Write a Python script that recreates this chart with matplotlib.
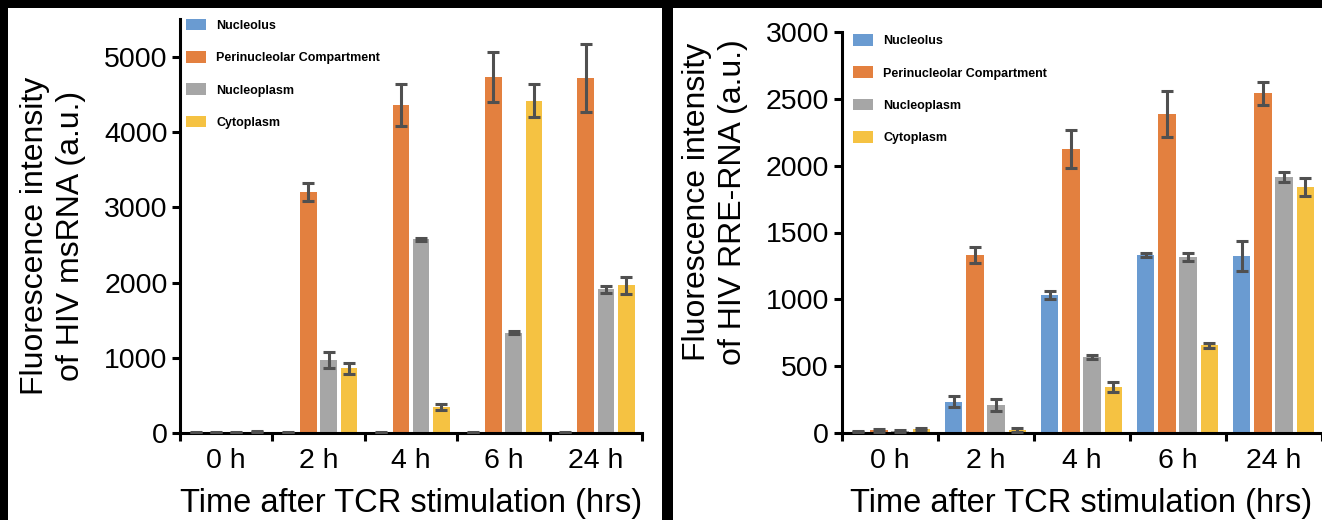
import numpy as np
import matplotlib
matplotlib.use('Agg')
import matplotlib.pyplot as plt
from matplotlib.patches import Patch, Rectangle

plt.rcParams['font.family'] = ['Liberation Sans', 'DejaVu Sans']

# ---- data ----
time_labels = ['0 h', '2 h', '4 h', '6 h', '24 h']
compartments = ['Nucleolus', 'Perinucleolar Compartment', 'Nucleoplasm', 'Cytoplasm']
colors = ['#6A9BD1', '#E3803F', '#A6A6A6', '#F5C242']

# left panel: HIV msRNA
ms_nucleolus = [8, 5, 5, 5, 5]
ms_nucleolus_err = [3, 2, 2, 2, 2]
ms_peri = [10, 3200, 4360, 4730, 4720]
ms_peri_err = [4, 120, 280, 330, 450]
ms_nucleoplasm = [10, 970, 2575, 1335, 1910]
ms_nucleoplasm_err = [4, 110, 20, 25, 50]
ms_cyto = [15, 860, 340, 4420, 1965]
ms_cyto_err = [5, 70, 40, 220, 115]

# right panel: HIV RRE-RNA
rre_nucleolus = [10, 235, 1035, 1330, 1325]
rre_nucleolus_err = [5, 40, 30, 15, 110]
rre_peri = [20, 1330, 2125, 2385, 2540]
rre_peri_err = [10, 60, 140, 170, 85]
rre_nucleoplasm = [15, 210, 570, 1320, 1915]
rre_nucleoplasm_err = [8, 45, 15, 30, 35]
rre_cyto = [30, 22, 345, 655, 1840]
rre_cyto_err = [10, 15, 35, 20, 70]

W, H = 1322, 520
fig = plt.figure(figsize=(W / 100, H / 100), dpi=100)
fig.patch.set_facecolor('black')

# white panels on black background
fig.add_artist(Rectangle((8 / W, 0), 654 / W, 512 / H, transform=fig.transFigure,
                         facecolor='white', edgecolor='none', zorder=-5))
fig.add_artist(Rectangle((673 / W, 0), 649 / W, 512 / H, transform=fig.transFigure,
                         facecolor='white', edgecolor='none', zorder=-5))


def draw_panel(ax, series, errors, ymax, yticks, ylabel, label_xy, legend_anchor):
    x = np.arange(len(time_labels))
    width = 0.18
    step = 0.22
    for i, (vals, errs) in enumerate(zip(series, errors)):
        ax.bar(x + (i - 1.5) * step, vals, width, color=colors[i], zorder=2)
        ax.errorbar(x + (i - 1.5) * step, vals, yerr=errs, fmt='none',
                    ecolor='#505050', elinewidth=2.2, capsize=4, capthick=2.2, zorder=3)

    ax.set_facecolor('none')
    ax.set_xlim(-0.5, len(time_labels) - 0.5)
    ax.set_ylim(0, ymax)
    ax.set_yticks(yticks)
    ax.set_yticklabels([str(t) for t in yticks])

    # group separators as major ticks, labels on minor ticks
    ax.set_xticks(np.arange(-0.5, len(time_labels), 1.0))
    ax.set_xticklabels([])
    ax.set_xticks(x, minor=True)
    ax.set_xticklabels(time_labels, minor=True)
    ax.tick_params(axis='x', which='major', direction='out', length=6, width=2.2)
    ax.tick_params(axis='x', which='minor', length=0, pad=11, labelsize=20.5)
    ax.tick_params(axis='y', direction='out', length=6, width=2.2, pad=3, labelsize=20.5)

    for side in ['top', 'right']:
        ax.spines[side].set_visible(False)
    for side in ['left', 'bottom']:
        ax.spines[side].set_linewidth(2.2)

    ax.set_xlabel('Time after TCR stimulation (hrs)', fontsize=23.5, labelpad=10)
    fig.text(label_xy[0] / W, 1 - label_xy[1] / H, ylabel, rotation=90,
             ha='center', va='center', fontsize=23, multialignment='center',
             linespacing=1.3)

    handles = [Patch(facecolor=c, edgecolor='none') for c in colors]
    leg = ax.legend(handles, compartments, loc='upper left', bbox_to_anchor=legend_anchor,
                    frameon=False, prop={'weight': 'bold', 'size': 9},
                    handlelength=1.6, handleheight=1.05, handletextpad=0.8,
                    labelspacing=1.55, borderpad=0, borderaxespad=0)
    return leg


ax1 = fig.add_axes([180 / W, (H - 433) / H, 462 / W, (433 - 19.4) / H])
draw_panel(ax1,
           [ms_nucleolus, ms_peri, ms_nucleoplasm, ms_cyto],
           [ms_nucleolus_err, ms_peri_err, ms_nucleoplasm_err, ms_cyto_err],
           5500, [0, 1000, 2000, 3000, 4000, 5000],
           'Fluorescence intensity\nof HIV msRNA (a.u.)', (53, 236), (0.013, 1.002))

ax2 = fig.add_axes([841.5 / W, (H - 433) / H, 480 / W, (433 - 32) / H])
draw_panel(ax2,
           [rre_nucleolus, rre_peri, rre_nucleoplasm, rre_cyto],
           [rre_nucleolus_err, rre_peri_err, rre_nucleoplasm_err, rre_cyto_err],
           3000, [0, 500, 1000, 1500, 2000, 2500, 3000],
           'Fluorescence intensity\nof HIV RRE-RNA (a.u.)', (715, 202), (0.024, 0.995))

fig.savefig('out.png', dpi=100, facecolor=fig.get_facecolor())
